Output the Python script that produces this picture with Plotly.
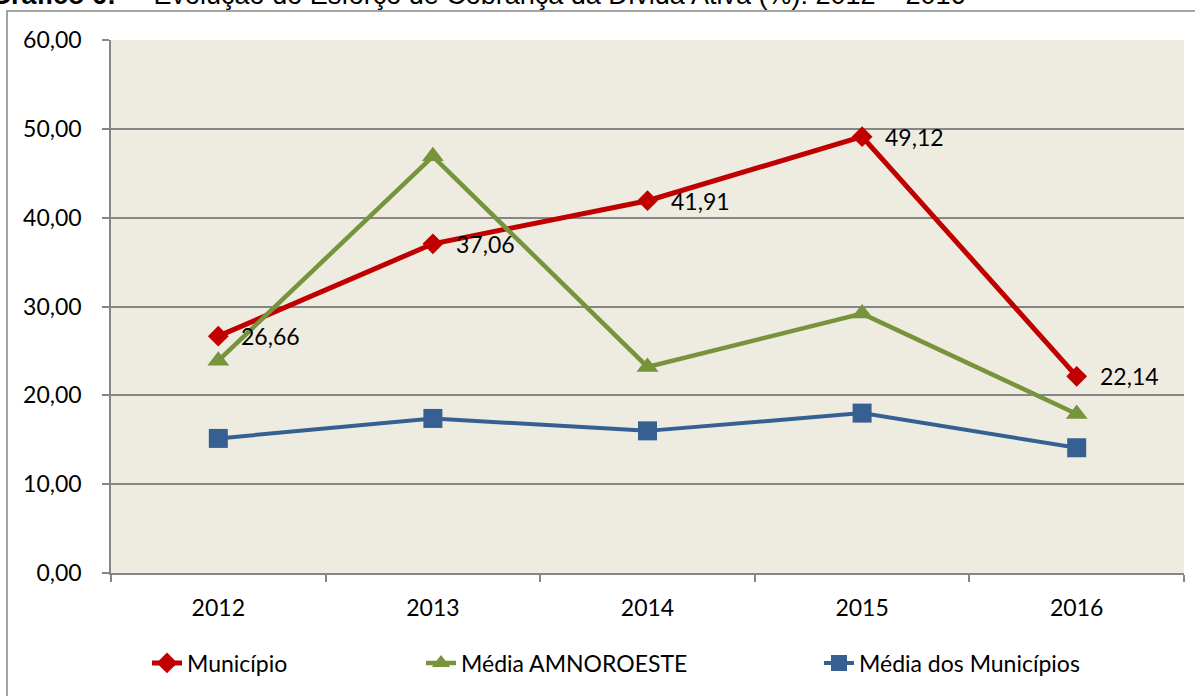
import plotly.graph_objects as go

years = ["2012", "2013", "2014", "2015", "2016"]
municipio = [26.66, 37.06, 41.91, 49.12, 22.14]
media_amnoroeste = [23.9, 46.9, 23.2, 29.2, 17.9]
media_municipios = [15.15, 17.4, 16.0, 18.0, 14.1]
y_ticks = [0, 10, 20, 30, 40, 50, 60]

FONT = "Lato"
FS = 23
W, H = 1195, 696
L, R, T, B = 111, 11, 40, 123
pw = W - L - R
ph = H - T - B

def px_to_xp(px):
    return (px - L) / pw

def py_to_yp(py):
    return 1 - (py - T) / ph

fig = go.Figure()
fig.add_trace(go.Scatter(
    x=years, y=municipio, name="Município", mode="lines+markers",
    line=dict(color="#C00000", width=5),
    marker=dict(symbol="diamond", size=16, color="#C00000"),
    legend="legend", cliponaxis=False, showlegend=True,
))
fig.add_trace(go.Scatter(
    x=years, y=media_amnoroeste, name="Média AMNOROESTE", mode="lines+markers",
    line=dict(color="#77933C", width=4.5),
    marker=dict(symbol="triangle-up", size=19, color="#77933C"),
    legend="legend2", cliponaxis=False, showlegend=True,
))
fig.add_trace(go.Scatter(
    x=years, y=media_municipios, name="Média dos Municípios", mode="lines+markers",
    line=dict(color="#376092", width=4),
    marker=dict(symbol="square", size=19, color="#376092"),
    legend="legend3", cliponaxis=False, showlegend=True,
))

# data labels for Município, placed from the data values (category index)
for i, v in enumerate(municipio):
    fig.add_annotation(
        x=i, y=v, xref="x", yref="y", text=f"{v:.2f}".replace(".", ","),
        showarrow=False, xanchor="left", yanchor="middle", xshift=21,
        font=dict(family=FONT, size=FS, color="#000000"),
    )

legend_common = dict(orientation="h", yanchor="middle", xanchor="left",
                     font=dict(family=FONT, size=FS, color="#000000"),
                     bgcolor="rgba(0,0,0,0)", borderwidth=0)
ly = py_to_yp(663)
fig.update_layout(
    showlegend=True,
    legend=dict(x=px_to_xp(147), y=ly, **legend_common),
    legend2=dict(x=px_to_xp(421), y=ly, **legend_common),
    legend3=dict(x=px_to_xp(819), y=ly, **legend_common),
)

fig.update_layout(
    width=W, height=H,
    margin=dict(l=L, r=R, t=T, b=B),
    paper_bgcolor="#FFFFFF", plot_bgcolor="#EEECE1",
    separators=",.",
    font=dict(family=FONT, size=FS, color="#000000"),
    xaxis=dict(type="category", tickson="boundaries", ticks="outside", ticklen=7,
               tickcolor="#868686", tickwidth=1.5, showgrid=False,
               showline=True, linecolor="#868686", linewidth=1.5,
               ticklabelstandoff=14, tickfont=dict(family=FONT, size=FS),
               range=[-0.5, 4.5], fixedrange=True),
    yaxis=dict(range=[0, 60], tickvals=y_ticks, tickformat=".2f",
               ticks="outside", ticklen=7, tickcolor="#868686", tickwidth=1.5,
               showgrid=True, gridcolor="#868686", gridwidth=1.5,
               showline=True, linecolor="#868686", linewidth=1.5,
               zeroline=False, ticklabelstandoff=16,
               tickfont=dict(family=FONT, size=FS)),
)

# outer chart frame
fig.add_shape(type="rect", xref="paper", yref="paper",
              x0=px_to_xp(7), x1=px_to_xp(1260), y0=py_to_yp(760), y1=py_to_yp(11),
              line=dict(color="#868686", width=1.5), fillcolor="rgba(0,0,0,0)",
              layer="below")

# caption above the chart (cut by the top edge, as in the reference)
fig.add_annotation(
    xref="paper", yref="paper", x=px_to_xp(-12), y=py_to_yp(-5),
    xanchor="left", yanchor="middle", showarrow=False,
    text="<b>Gráfico 6:</b> –  Evolução do Esforço de Cobrança da Dívida Ativa (%): 2012 – 2016",
    font=dict(family="Liberation Sans", size=27, color="#000000"),
)

fig.write_html("out.html", config={"displayModeBar": False},
               post_script="document.body.style.margin='0px';")
